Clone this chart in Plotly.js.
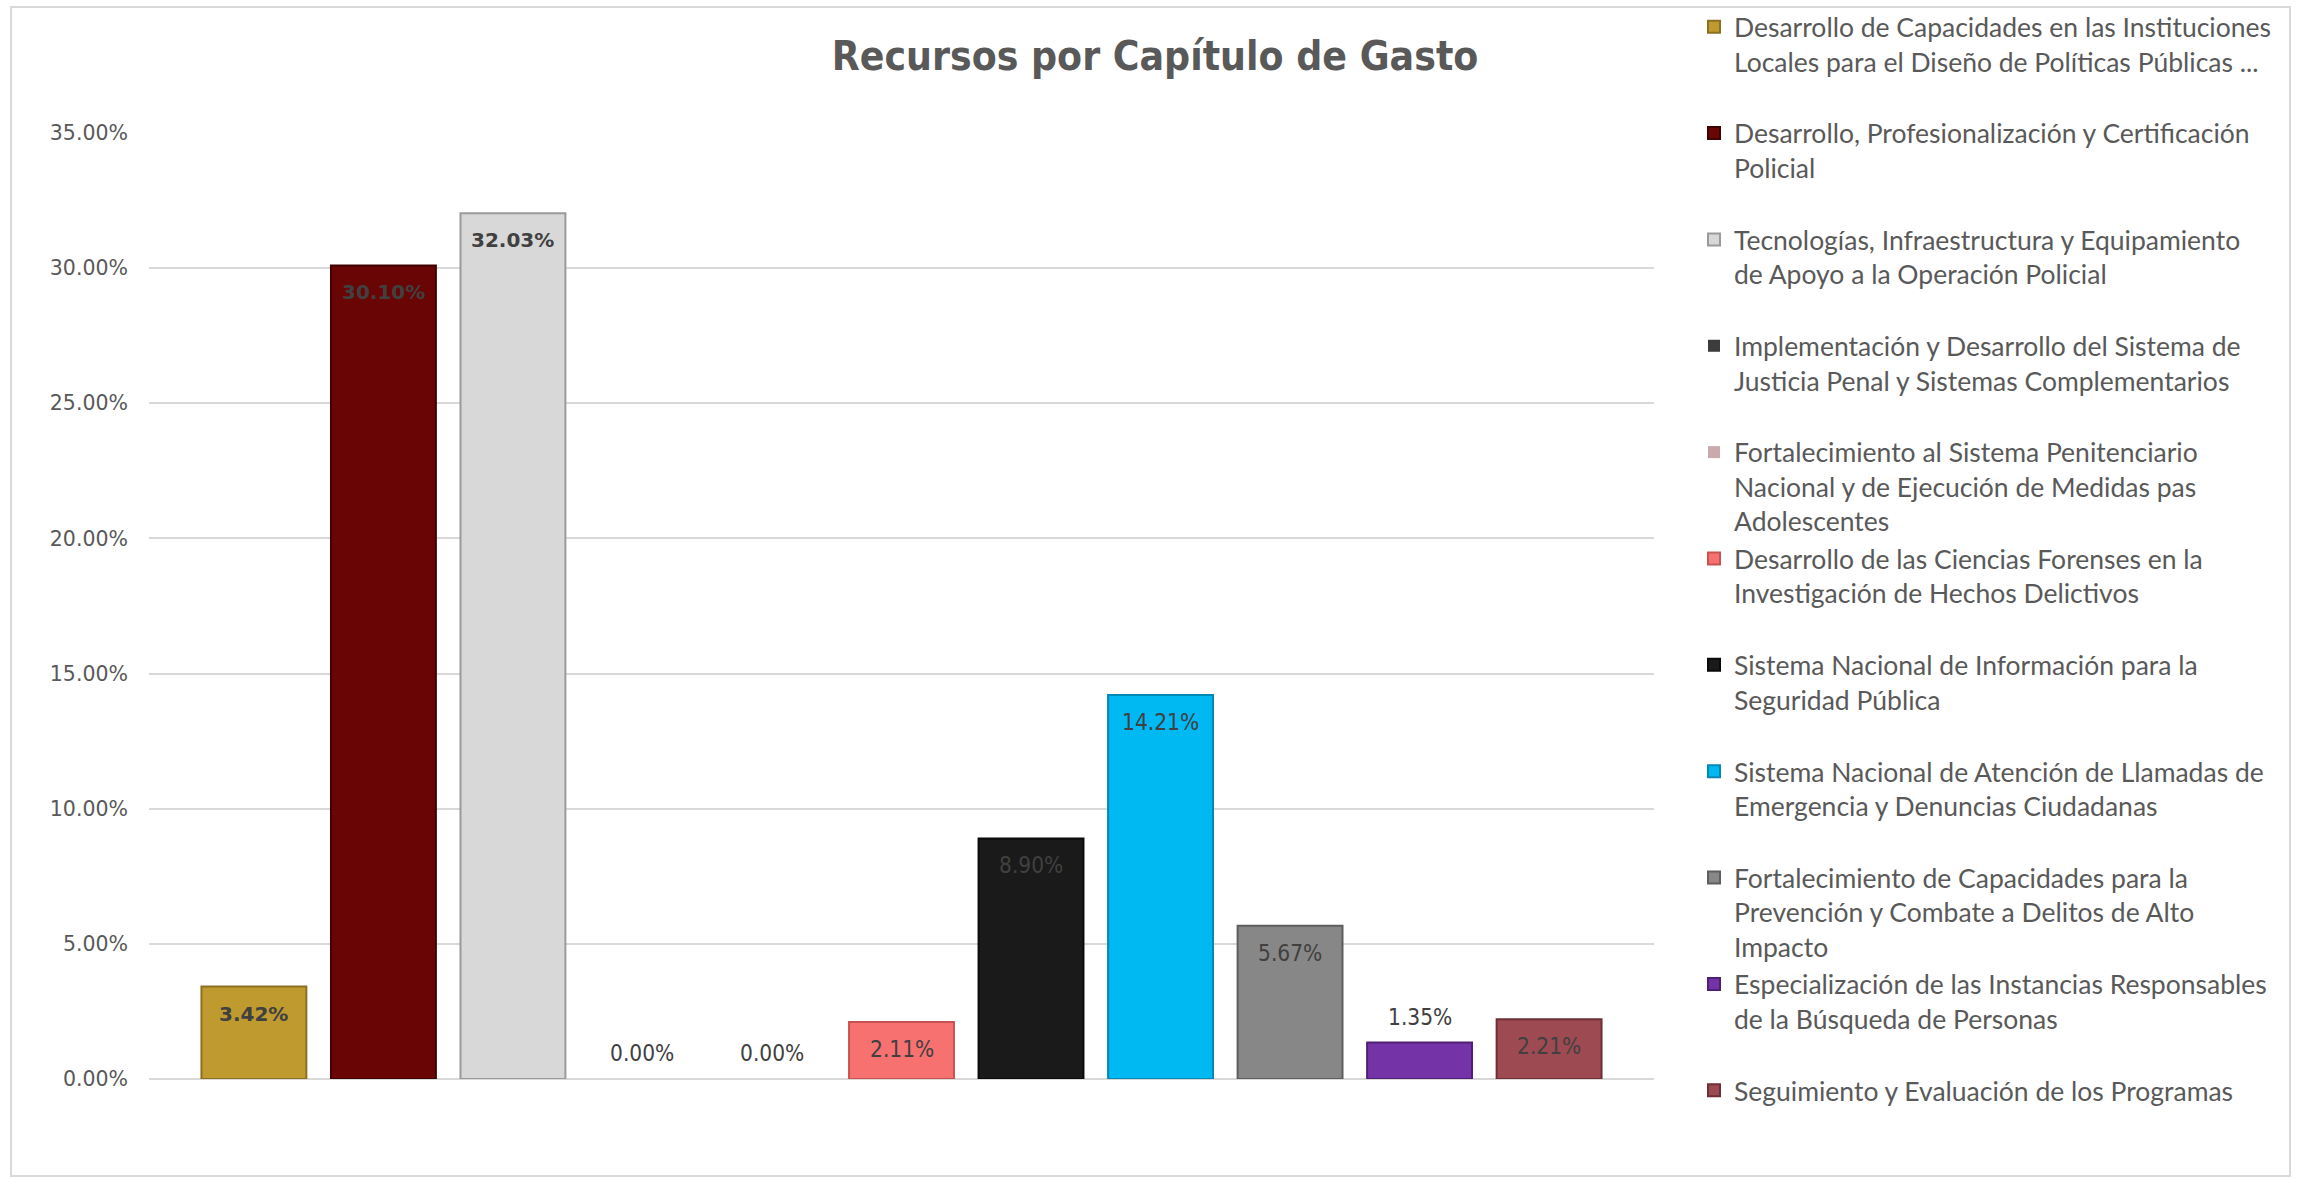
<!DOCTYPE html>
<html>
<head>
<meta charset="utf-8">
<script src="https://cdn.plot.ly/plotly-3.0.1.min.js"></script>
<style>
  html, body { margin: 0; padding: 0; background: #ffffff; }
  #chart { width: 2310px; height: 1179px; }
</style>
</head>
<body>
<div id="chart"></div>
<script>
// ---- data ----
const categories = [
  "Desarrollo de Capacidades en las Instituciones Locales para el Diseño de Políticas Públicas ...",
  "Desarrollo, Profesionalización y Certificación Policial",
  "Tecnologías, Infraestructura y Equipamiento de Apoyo a la Operación Policial",
  "Implementación y Desarrollo del Sistema de Justicia Penal y Sistemas Complementarios",
  "Fortalecimiento al Sistema Penitenciario Nacional y de Ejecución de Medidas pas Adolescentes",
  "Desarrollo de las Ciencias Forenses en la Investigación de Hechos Delictivos",
  "Sistema Nacional de Información para la Seguridad Pública",
  "Sistema Nacional de Atención de Llamadas de Emergencia y Denuncias Ciudadanas",
  "Fortalecimiento de Capacidades para la Prevención y Combate a Delitos de Alto Impacto",
  "Especialización de las Instancias Responsables de la Búsqueda de Personas",
  "Seguimiento y Evaluación de los Programas"
];
const legendLabels = [
  "Desarrollo de Capacidades en las Instituciones<br>Locales para el Diseño de Políticas Públicas ...<br>\u00a0",
  "Desarrollo, Profesionalización y Certificación<br>Policial<br>\u00a0",
  "Tecnologías, Infraestructura y Equipamiento<br>de Apoyo a la Operación Policial<br>\u00a0",
  "Implementación y Desarrollo del Sistema de<br>Justicia Penal y Sistemas Complementarios<br>\u00a0",
  "Fortalecimiento al Sistema Penitenciario<br>Nacional y de Ejecución de Medidas pas<br>Adolescentes",
  "Desarrollo de las Ciencias Forenses en la<br>Investigación de Hechos Delictivos<br>\u00a0",
  "Sistema Nacional de Información para la<br>Seguridad Pública<br>\u00a0",
  "Sistema Nacional de Atención de Llamadas de<br>Emergencia y Denuncias Ciudadanas<br>\u00a0",
  "Fortalecimiento de Capacidades para la<br>Prevención y Combate a Delitos de Alto<br>Impacto",
  "Especialización de las Instancias Responsables<br>de la Búsqueda de Personas<br>\u00a0",
  "Seguimiento y Evaluación de los Programas"
];
const values = [0.0342, 0.3010, 0.3203, 0.0000, 0.0000, 0.0211, 0.0890, 0.1421, 0.0567, 0.0135, 0.0221];
const labelBold = [true, true, true, false, false, false, false, false, false, false, false];
const labelInside = [true, true, true, false, false, true, true, true, true, false, true];
const yTickValues = [0, 0.05, 0.10, 0.15, 0.20, 0.25, 0.30, 0.35];

// ---- styles ----
const fillColors = ["#BF9A2F", "#6A0505", "#D8D8D8", "#3C3C3C", "#C9AAAD", "#F87171",
                    "#1A1A1A", "#00B9F2", "#878787", "#7434A8", "#9E4A52"];
const lineColors = ["#8C7021", "#3E0202", "#9A9A9A", "#1E1E1E", "#8F7375", "#C85252",
                    "#0A0A0A", "#0089B5", "#5E5E5E", "#4E1F75", "#6E2F36"];
const condensed = "DejaVu Sans Condensed, DejaVu Sans, sans-serif";

const traces = categories.map((c, i) => ({
  type: "bar",
  x: [c],
  y: [values[i]],
  name: legendLabels[i],
  legendgroup: "g" + i,
  width: 0.81,
  marker: { color: fillColors[i], line: { color: lineColors[i], width: values[i] > 0 ? 2 : 0 } },
  hoverinfo: "skip"
}));

const annotations = categories.map((c, i) => ({
  x: c,
  y: values[i],
  xref: "x",
  yref: "y",
  text: (values[i] * 100).toFixed(2) + "%",
  showarrow: false,
  yanchor: "middle",
  yshift: labelInside[i] ? -27 : 26,
  font: labelBold[i]
    ? { family: "DejaVu Sans", size: 20, color: "#404040", weight: "bold" }
    : { family: condensed, size: 22.5, color: "#404040" }
}));

const layout = {
  width: 2310,
  height: 1179,
  paper_bgcolor: "#ffffff",
  plot_bgcolor: "#ffffff",
  margin: { l: 149, r: 656, t: 133, b: 100 },
  barmode: "overlay",
  title: {
    text: "<b>Recursos por Capítulo de Gasto</b>",
    font: { family: condensed, size: 40.5, color: "#595959" },
    x: 0.5, xref: "container", xanchor: "center",
    y: 1 - 56 / 1179, yref: "container", yanchor: "middle"
  },
  xaxis: {
    type: "category",
    range: [-0.81, 10.81],
    showticklabels: false,
    showgrid: false,
    zeroline: false,
    showline: false,
    ticks: ""
  },
  yaxis: {
    range: [0, 0.35],
    tickvals: yTickValues,
    tickformat: ".2%",
    showgrid: true,
    gridcolor: "#D9D9D9",
    gridwidth: 2,
    zeroline: true,
    zerolinecolor: "#D9D9D9",
    zerolinewidth: 2,
    showline: false,
    ticks: "",
    ticklabelstandoff: 20,
    tickfont: { family: "DejaVu Sans", size: 20.5, color: "#595959" }
  },
  showlegend: true,
  legend: {
    xref: "container", yref: "container",
    x: 1694 / 2310, xanchor: "left",
    y: 1 - 3 / 1179, yanchor: "top",
    maxheight: 1179,
    traceorder: "grouped",
    tracegroupgap: 0,
    valign: "top",
    itemwidth: 30,
    font: { family: "Lato", size: 26.5, color: "#595959" },
    bgcolor: "rgba(0,0,0,0)"
  },
  annotations: annotations,
  shapes: [{
    type: "rect", xref: "paper", yref: "paper", layer: "below",
    x0: (11 - 149) / 1505, x1: (2290 - 149) / 1505,
    y0: (1079 - 1176) / 946, y1: (1079 - 7) / 946,
    line: { color: "#D9D9D9", width: 2 }, fillcolor: "rgba(0,0,0,0)"
  }]
};

Plotly.newPlot("chart", traces, layout, { displayModeBar: false, staticPlot: true });
</script>
</body>
</html>
